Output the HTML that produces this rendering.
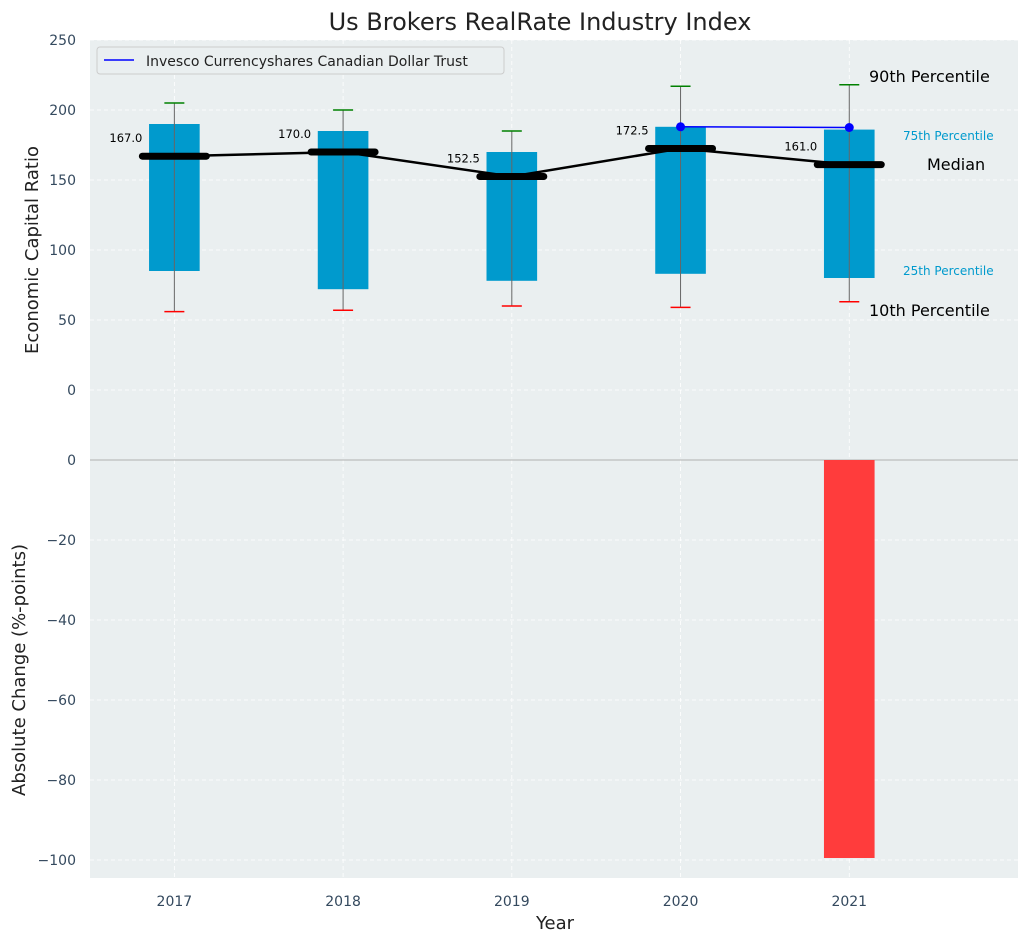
<!DOCTYPE html>
<html><head><meta charset="utf-8"><style>
body{margin:0;background:#fff;font-family:"Liberation Sans","DejaVu Sans",sans-serif}
</style></head><body>
<svg id="chart" width="1029" height="942" xmlns="http://www.w3.org/2000/svg" font-family="DejaVu Sans, Liberation Sans, sans-serif"></svg>
<script>
const years=[2017,2018,2019,2020,2021];
const p10=[56,57,60,59,63];
const p25=[85,72,78,83,80];
const p75=[190,185,170,188,186];
const p90=[205,200,185,217,218];
const medians=[167,170,152.5,172.5,161];
const companyYears=[2020,2021];
const companyValues=[188,187.5];
const changeYears=[2021];
const changeValues=[-99.5];
const topTicks=[0,50,100,150,200,250];
const botTicks=[0,-20,-40,-60,-80,-100];

const svg=document.getElementById('chart');
const NS='http://www.w3.org/2000/svg';
const L=90,R=1018,T1=40,B1=460,T2=460,B2=878;
const x=v=>L+(v-2016.5)/(2022-2016.5)*(R-L);
const y1=v=>B1-(v+50)/300*(B1-T1);
const y2=v=>T2+(v/-104.5)*(B2-T2);
function el(t,a,txt){const e=document.createElementNS(NS,t);for(const k in a)e.setAttribute(k,a[k]);if(txt!==undefined)e.textContent=txt;svg.appendChild(e);return e;}

let e;
e=el('rect',{x:L,y:T1,width:R-L,height:B1-T1,fill:'#eaeff0'});


e=el('rect',{x:L,y:T2,width:R-L,height:B2-T2,fill:'#eaeff0'});



topTicks.forEach(t=>{el('line',{x1:L,x2:R,y1:y1(t),y2:y1(t),stroke:'#fff','stroke-dasharray':'4,3','stroke-width':0.8});
 e=el('text',{x:L-14,y:y1(t)+5,'text-anchor':'end','font-size':14,fill:'#34495e'},t);
 
 });
botTicks.forEach(t=>{el('line',{x1:L,x2:R,y1:y2(t),y2:y2(t),stroke:'#fff','stroke-dasharray':'4,3','stroke-width':0.8});
 e=el('text',{x:L-14,y:y2(t)+5,'text-anchor':'end','font-size':14,fill:'#34495e'},t===0?'0':'\u2212'+(-t));
 
 });
years.forEach(yr=>{
 el('line',{x1:x(yr),x2:x(yr),y1:T1,y2:B2,stroke:'#fff','stroke-dasharray':'4,3','stroke-width':0.8});
 e=el('text',{x:x(yr),y:B2+28,'text-anchor':'middle','font-size':14,fill:'#34495e'},yr);
 
 
});
el('line',{x1:L,x2:R,y1:460,y2:460,stroke:'#b0b0b0','stroke-width':1});

const bw=0.3*(R-L)/5.5;
years.forEach((yr,i)=>{
 const cx=x(yr);
 e=el('rect',{x:cx-bw/2,y:y1(p75[i]),width:bw,height:y1(p25[i])-y1(p75[i]),fill:'#009acd'});
 
 
 el('line',{x1:cx,x2:cx,y1:y1(p90[i]),y2:y1(p10[i]),stroke:'#666','stroke-width':1});
 e=el('line',{x1:cx-10,x2:cx+10,y1:y1(p90[i]),y2:y1(p90[i]),stroke:'green','stroke-width':1.5});
 
 
 e=el('line',{x1:cx-10,x2:cx+10,y1:y1(p10[i]),y2:y1(p10[i]),stroke:'red','stroke-width':1.5});
 
 
});
e=el('polyline',{points:years.map((yr,i)=>x(yr)+','+y1(medians[i])).join(' '),fill:'none',stroke:'#000','stroke-width':2.5});


years.forEach((yr,i)=>{
 const cx=x(yr);
 e=el('line',{x1:cx-32,x2:cx+32,y1:y1(medians[i]),y2:y1(medians[i]),stroke:'#000','stroke-width':7,'stroke-linecap':'round'});
 
 
 e=el('text',{x:cx-32,y:y1(medians[i])-14,'text-anchor':'end','font-size':11.5,fill:'#000'},medians[i].toFixed(1));
 
 
});
e=el('polyline',{points:companyYears.map((yr,i)=>x(yr)+','+y1(companyValues[i])).join(' '),fill:'none',stroke:'blue','stroke-width':1.5});


companyYears.forEach((yr,i)=>{e=el('circle',{cx:x(yr),cy:y1(companyValues[i]),r:4.5,fill:'blue'});
 
 });
changeYears.forEach((yr,i)=>{e=el('rect',{x:x(yr)-bw/2,y:y2(0),width:bw,height:y2(changeValues[i])-y2(0),fill:'#ff3c3c'});
 
 });
const ann=[[869,82,'90th Percentile',16,'#000','annotation-p90'],[903,140,'75th Percentile',12,'#009acd','annotation-p75'],[927,170,'Median',16,'#000','annotation-median'],[903,275,'25th Percentile',12,'#009acd','annotation-p25'],[869,316,'10th Percentile',16,'#000','annotation-p10']];
ann.forEach(a=>{e=el('text',{x:a[0],y:a[1],'font-size':a[3],fill:a[4]},a[2]);
 
 });
e=el('rect',{x:97,y:47,width:407,height:27,fill:'#eaeff0',stroke:'#ccc',rx:3});


el('line',{x1:104,x2:134,y1:60,y2:60,stroke:'blue','stroke-width':1.5});
e=el('text',{x:146,y:66,'font-size':14,fill:'#222'},'Invesco Currencyshares Canadian Dollar Trust');


e=el('text',{x:540,y:30,'text-anchor':'middle','font-size':24,fill:'#222'},'Us Brokers RealRate Industry Index');


e=el('text',{x:555,y:929,'text-anchor':'middle','font-size':18,fill:'#222'},'Year');


e=el('text',{x:38,y:250,'text-anchor':'middle','font-size':18,fill:'#222',transform:'rotate(-90 38 250)'},'Economic Capital Ratio');


e=el('text',{x:25,y:670,'text-anchor':'middle','font-size':18,fill:'#222',transform:'rotate(-90 25 670)'},'Absolute Change (%-points)');


</script>
</body></html>
